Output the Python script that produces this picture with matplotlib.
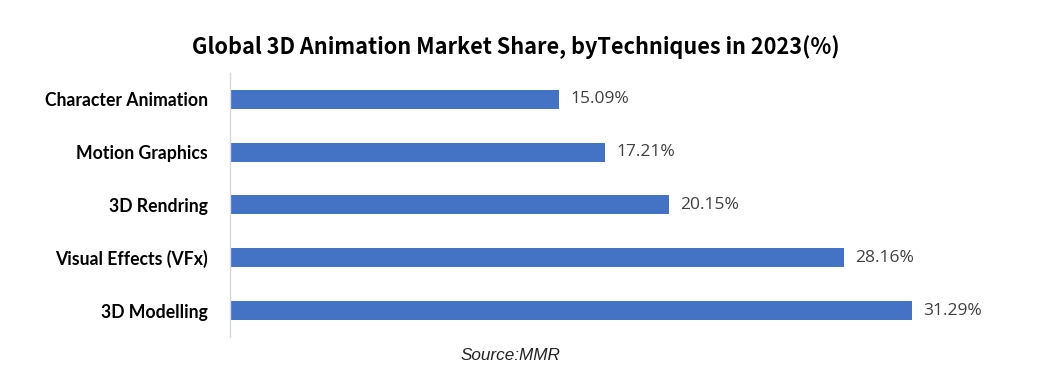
import matplotlib
matplotlib.use("Agg")
import matplotlib.pyplot as plt

categories = ["3D Modelling", "Visual Effects (VFx)", "3D Rendring", "Motion Graphics", "Character Animation"]
values = [31.29, 28.16, 20.15, 17.21, 15.09]
value_labels = ["31.29%", "28.16%", "20.15%", "17.21%", "15.09%"]

fig = plt.figure(figsize=(10.5, 3.76), dpi=100)
ax = fig.add_axes([0.219, 0.104, 0.727, 0.702])

y = list(range(len(categories)))
ax.barh(y, values, height=0.36, color="#4472C4")
ax.set_xlim(0, 35)
ax.set_ylim(-0.5, 4.5)
ax.set_yticks(y)
ax.set_yticklabels(categories, fontfamily="Lato", fontweight="bold", fontsize=12.7, color="black")
ax.tick_params(axis="y", length=0, pad=16)
ax.set_xticks([])
for s in ["top", "right", "bottom"]:
    ax.spines[s].set_visible(False)
ax.spines["left"].set_color("#D9D9D9")
ax.spines["left"].set_linewidth(1)

for yi, v, lab in zip(y, values, value_labels):
    ax.text(v + 0.5, yi, lab, va="center", ha="left", fontsize=12.5,
            fontfamily="Open Sans", color="#404040")

fig.text(0.491, 0.875, "Global 3D Animation Market Share, byTechniques in 2023(%)",
         ha="center", va="center", fontsize=15.6, fontweight="bold",
         fontfamily="Noto Sans CJK KR", color="black")
fig.text(0.486, 0.055, "Source:MMR", ha="center", va="center", fontsize=12.3,
         fontstyle="italic", fontfamily="Liberation Sans", color="#222222")

fig.savefig("out.png", dpi=100)
